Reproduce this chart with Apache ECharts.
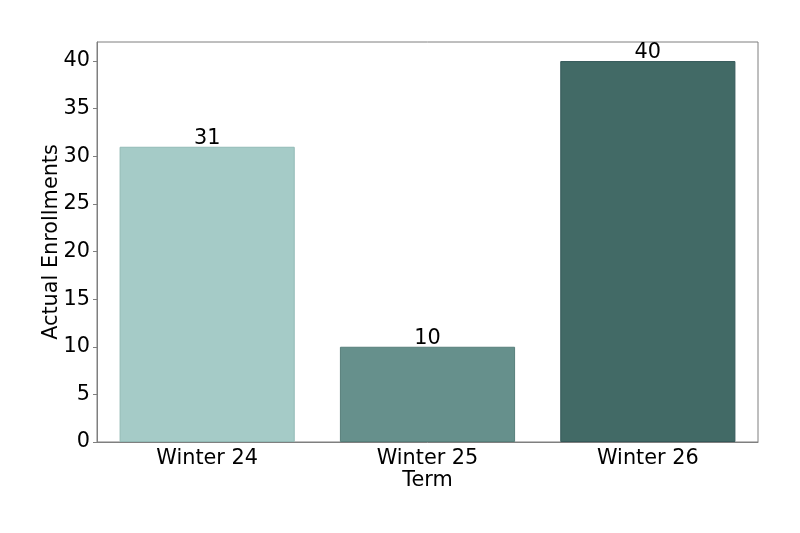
<!DOCTYPE html>
<html>
<head>
<meta charset="utf-8">
<script src="https://cdn.jsdelivr.net/npm/echarts@6/dist/echarts.min.js"></script>
<style>html,body{margin:0;padding:0;background:#fff}#c{width:800px;height:533px}</style>
</head>
<body>
<div id="c"></div>
<script>
var categories = ['Winter 24', 'Winter 25', 'Winter 26'];
var values = [31, 10, 40];
var barColors = ['#a5cbc7', '#66908c', '#426a66'];
var edgeColors = ['#93bab6', '#577f7b', '#35595a'];
var yTicks = [0, 5, 10, 15, 20, 25, 30, 35, 40];

var chart = echarts.init(document.getElementById('c'), null, {renderer: 'canvas'});
var font = 'DejaVu Sans';
var fs = 20.8;
chart.setOption({
  animation: false,
  backgroundColor: '#fff',
  grid: {left: 97, right: 42, top: 42, bottom: 91, show: true, borderColor: '#7f7f7f', borderWidth: 1},
  xAxis: {
    type: 'category',
    data: categories,
    name: 'Term',
    nameLocation: 'middle',
    nameGap: 28,
    nameMoveOverlap: false,
    nameTextStyle: {fontFamily: font, fontSize: fs, color: '#000'},
    axisLine: {lineStyle: {color: '#7f7f7f'}},
    axisTick: {alignWithLabel: true, length: 4, lineStyle: {color: '#7f7f7f'}},
    axisLabel: {fontFamily: font, fontSize: fs, color: '#000', margin: 6}
  },
  yAxis: {
    type: 'value',
    min: 0, max: 42, interval: 5,
    name: 'Actual Enrollments',
    nameLocation: 'middle',
    nameGap: 35,
    nameMoveOverlap: false,
    nameTextStyle: {fontFamily: font, fontSize: fs, color: '#000'},
    splitLine: {show: false},
    axisLine: {show: true, lineStyle: {color: '#7f7f7f'}},
    axisTick: {show: true, length: 4, lineStyle: {color: '#7f7f7f'}},
    axisLabel: {fontFamily: font, fontSize: fs, color: '#000', margin: 7, showMaxLabel: false,
      formatter: function (v) { return yTicks.indexOf(v) >= 0 ? String(v) : ''; }}
  },
  series: [{
    type: 'bar',
    barCategoryGap: '20.5%',
    data: values.map(function (v, i) {
      return {value: v, itemStyle: {color: barColors[i], borderColor: edgeColors[i], borderWidth: 1}};
    }),
    label: {show: true, position: 'top', distance: -2, fontFamily: font, fontSize: fs, color: '#000'}
  }]
});
</script>
</body>
</html>
